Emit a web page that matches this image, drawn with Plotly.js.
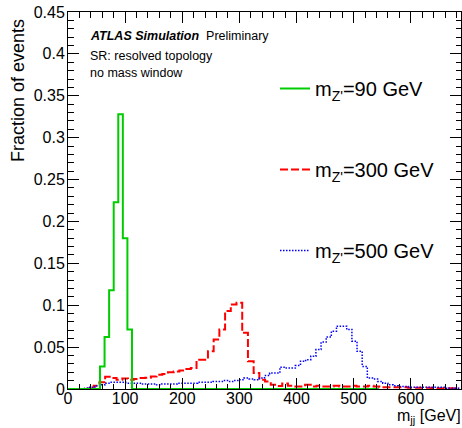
<!DOCTYPE html>
<html>
<head>
<meta charset="utf-8">
<script src="https://cdn.plot.ly/plotly-3.0.1.min.js"></script>
<style>html,body{margin:0;padding:0;background:#fff;}#chart{width:462px;height:428px;}</style>
</head>
<body>
<div id="chart"></div>
<script>
// ---- data ----
const seriesNames = ["m<sub>Z'</sub>=90 GeV", "m<sub>Z'</sub>=300 GeV", "m<sub>Z'</sub>=500 GeV"];

// m_Z' = 90 GeV : explicit bin edges (GeV) and bin contents
const greenEdges = [0, 56, 64, 72, 80, 88, 96, 104, 112, 544];
const greenValues = [0, 0.027, 0.062, 0.118, 0.223, 0.328, 0.180, 0.071, 0];

// m_Z' = 300 GeV : 10 GeV bins, first bin starts at 5 GeV
const redFirstEdge = 5, redBinWidth = 10;
const redValues = [
  0, 0, 0, 0.001, 0.004, 0.008, 0.0145, 0.013, 0.011, 0.0125,
  0.011, 0.012, 0.013, 0.0135, 0.015, 0.017, 0.018, 0.020, 0.021, 0.022,
  0.024, 0.025, 0.035, 0.035, 0.045, 0.059, 0.071, 0.093, 0.101, 0.103,
  0.067, 0.033, 0.019, 0.011, 0.009, 0.005, 0.0035, 0.0065, 0.004, 0.003,
  0.003, 0.005, 0.003, 0.004, 0.003, 0.003, 0.004, 0.003, 0.003, 0.004,
  0.003, 0.003, 0.004, 0.003, 0.002, 0.002, 0.002, 0.002, 0.002, 0.0015,
  0.0015, 0.0015, 0.0015, 0.001, 0.001, 0.001, 0.001, 0.001
];

// m_Z' = 500 GeV : 9 GeV bins, first bin starts at 2 GeV
const blueFirstEdge = 2, blueBinWidth = 9;
const blueValues = [
  0, 0, 0, 0.001, 0.002, 0.004, 0.005, 0.007, 0.008, 0.008,
  0.008, 0.007, 0.007, 0.007, 0.006, 0.006, 0.006, 0.005, 0.006, 0.006,
  0.006, 0.007, 0.007, 0.007, 0.007, 0.008, 0.008, 0.008, 0.009, 0.009,
  0.010, 0.009, 0.010, 0.011, 0.013, 0.012, 0.011, 0.013, 0.016, 0.019,
  0.019, 0.026, 0.025, 0.025, 0.028, 0.033, 0.035, 0.039, 0.047, 0.056,
  0.062, 0.069, 0.075, 0.075, 0.071, 0.057, 0.045, 0.027, 0.013, 0.012,
  0.009, 0.007, 0.005, 0.004, 0.003, 0.003, 0.002, 0.002, 0.002, 0.002,
  0.002, 0.002, 0.002, 0.001, 0.001, 0.001
];

const xTickValues = [0, 100, 200, 300, 400, 500, 600];
const yTickValues = [0, 0.05, 0.1, 0.15, 0.2, 0.25, 0.3, 0.35, 0.4, 0.45];
const yTickLabels = ["0", "0.05", "0.1", "0.15", "0.2", "0.25", "0.3", "0.35", "0.4", "0.45"];

// ---- helpers ----
function uniformEdges(first, width, n) {
  const e = [];
  for (let i = 0; i <= n; i++) e.push(first + i * width);
  return e;
}
function stepXY(edges, values) {
  // bin i spans [edges[i], edges[i+1]] at values[i]; 'hv' line shape
  return { x: edges.slice(), y: values.concat([values[values.length - 1]]) };
}

const redStep = stepXY(uniformEdges(redFirstEdge, redBinWidth, redValues.length), redValues);
const blueStep = stepXY(uniformEdges(blueFirstEdge, blueBinWidth, blueValues.length), blueValues);
const greenStep = stepXY(greenEdges, greenValues);

const FONT = "Liberation Sans, Arial, Helvetica, sans-serif";

const traces = [
  { x: redStep.x, y: redStep.y, name: seriesNames[1], type: 'scatter', mode: 'lines',
    line: { shape: 'hv', color: '#ff0000', width: 2, dash: '8px,3px' },
    legendgroup: 'r', legendrank: 2, hoverinfo: 'skip' },
  { x: blueStep.x, y: blueStep.y, name: seriesNames[2], type: 'scatter', mode: 'lines',
    line: { shape: 'hv', color: '#0000ff', width: 1.5, dash: '1.5px,1.5px' },
    legendgroup: 'b', legendrank: 3, hoverinfo: 'skip' },
  { x: greenStep.x, y: greenStep.y, name: seriesNames[0], type: 'scatter', mode: 'lines',
    line: { shape: 'hv', color: '#00cc00', width: 2 },
    legendgroup: 'g', legendrank: 1, hoverinfo: 'skip' }
];

const L = 68, R = 1, T = 12, B = 39;
const W = 462, H = 428;
const pw = W - L - R, ph = H - T - B;
const px2x = p => (p - L) / pw;
const px2y = p => (H - B - p) / ph;

const layout = {
  width: W, height: H,
  margin: { l: L, r: R, t: T, b: B, pad: 0 },
  paper_bgcolor: '#fff', plot_bgcolor: '#fff',
  font: { family: FONT, color: '#000', size: 16 },
  showlegend: true,
  legend: {
    x: px2x(275), y: px2y(69), xanchor: 'left', yanchor: 'top',
    bgcolor: 'rgba(0,0,0,0)', borderwidth: 0,
    font: { family: FONT, size: 20, color: '#000' },
    traceorder: 'grouped', tracegroupgap: 52, itemwidth: 30
  },
  xaxis: {
    range: [0, 688], showgrid: false, zeroline: false,
    showline: true, linecolor: '#000', linewidth: 1, mirror: 'ticks',
    ticks: 'inside', ticklen: 11, tickwidth: 1, tickcolor: '#000',
    tickvals: xTickValues, ticktext: xTickValues.map(String),
    ticklabelstandoff: -5,
    tickfont: { family: FONT, size: 16, color: '#000' },
    minor: { dtick: 20, ticks: 'inside', ticklen: 5.5, tickwidth: 1, tickcolor: '#000', showgrid: false }
  },
  yaxis: {
    range: [0, 0.45], showgrid: false, zeroline: false,
    showline: true, linecolor: '#000', linewidth: 1, mirror: 'ticks',
    ticks: 'inside', ticklen: 11, tickwidth: 1, tickcolor: '#000',
    tickvals: yTickValues, ticktext: yTickLabels,
    ticklabelstandoff: -1,
    tickfont: { family: FONT, size: 16, color: '#000' },
    minor: { dtick: 0.01, ticks: 'inside', ticklen: 5.5, tickwidth: 1, tickcolor: '#000', showgrid: false }
  },
  annotations: [
    { xref: 'paper', yref: 'paper', x: px2x(88), y: px2y(36), xanchor: 'left', yanchor: 'middle',
      showarrow: false, font: { family: FONT, size: 12.5, color: '#000' },
      text: '<b><i>ATLAS Simulation</i></b>  Preliminary' },
    { xref: 'paper', yref: 'paper', x: px2x(88), y: px2y(56), xanchor: 'left', yanchor: 'middle',
      showarrow: false, font: { family: FONT, size: 12.5, color: '#000' },
      text: 'SR: resolved topology' },
    { xref: 'paper', yref: 'paper', x: px2x(88), y: px2y(73), xanchor: 'left', yanchor: 'middle',
      showarrow: false, font: { family: FONT, size: 12.5, color: '#000' },
      text: 'no mass window' },
    { xref: 'paper', yref: 'paper', x: px2x(18), y: px2y(91), xanchor: 'center', yanchor: 'middle',
      showarrow: false, textangle: -90, font: { family: FONT, size: 18, color: '#000' },
      text: 'Fraction of events' },
    { xref: 'paper', yref: 'paper', x: px2x(463), y: px2y(416.5), xanchor: 'right', yanchor: 'middle',
      showarrow: false, font: { family: FONT, size: 16, color: '#000' },
      text: 'm<sub>jj</sub> [GeV]' }
  ]
};

Plotly.newPlot('chart', traces, layout, { displayModeBar: false, staticPlot: true });
</script>
</body>
</html>
